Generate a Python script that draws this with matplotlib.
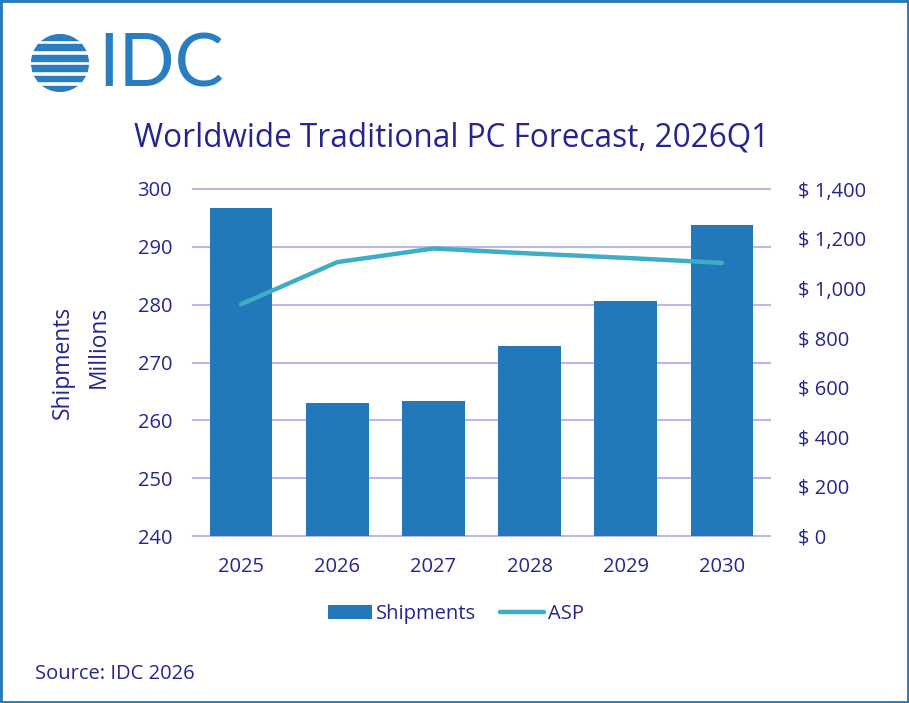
import matplotlib
matplotlib.use("Agg")
import matplotlib.pyplot as plt
from matplotlib.patches import Rectangle, Circle
import numpy as np

years = ["2025", "2026", "2027", "2028", "2029", "2030"]
shipments = [296.8, 263.0, 263.3, 272.9, 280.7, 293.7]
asp = [935, 1105, 1160, 1140, 1122, 1102]
left_ticks = [240, 250, 260, 270, 280, 290, 300]
right_ticks = [0, 200, 400, 600, 800, 1000, 1200, 1400]

plt.rcParams['font.family'] = ['Open Sans', 'DejaVu Sans']
TXT = '#25258d'
BAR = '#2378b9'
LINE = '#3eadc6'
GRID = '#bcb8e6'
LOGO = '#2a7dc1'

W, H = 909, 703
fig = plt.figure(figsize=(W/100, H/100), dpi=100)

ax = fig.add_axes([193/W, 1-536/H, (770-193)/W, (536-189)/H])
x = np.arange(len(years))
ax.bar(x, [s - 240 for s in shipments], bottom=240, width=0.65, color=BAR, zorder=3, label='Shipments')
ax.set_ylim(240, 300)
ax.set_xlim(-0.5, len(years)-0.5)
ax.set_yticks(left_ticks)
ax.set_yticklabels([str(t) for t in left_ticks])
ax.set_xticks(x)
ax.set_xticklabels(years)
ax.grid(axis='y', color=GRID, linewidth=1.5, zorder=0)
for gl in ax.get_ygridlines():
    gl.set_clip_on(False)
ax.set_axisbelow(True)
for s in ax.spines.values():
    s.set_visible(False)
ax.tick_params(axis='both', length=0, labelsize=14.5, colors=TXT)
ax.tick_params(axis='y', pad=15)
ax.tick_params(axis='x', pad=15)

ax2 = ax.twinx()
ax2.plot(x, asp, color=LINE, linewidth=3.2, zorder=4, label='ASP', solid_capstyle='round')
ax2.set_ylim(0, 1400)
ax2.set_yticks(right_ticks)
ax2.set_yticklabels([f"$ {t:,}" for t in right_ticks])
for s in ax2.spines.values():
    s.set_visible(False)
ax2.tick_params(axis='y', length=0, labelsize=14.5, colors=TXT, pad=20)

# y-axis title
fig.text(63/W, 1-362/H, "Shipments", rotation=90, ha='center', va='center', fontsize=16.4, color=TXT)
fig.text(99/W, 1-347/H, "Millions", rotation=90, ha='center', va='center', fontsize=16.4, color=TXT)

# title
fig.text(452/W, 1-138/H, "Worldwide Traditional PC Forecast, 2026Q1", ha='center', va='center',
         fontsize=22.7, color=TXT)

# legend
h1, l1 = ax.get_legend_handles_labels()
h2, l2 = ax2.get_legend_handles_labels()
leg = fig.legend(h1 + h2, l1 + l2, loc='center', bbox_to_anchor=(456/W, 1-614/H), ncol=2,
                 frameon=False, fontsize=14.5, handlelength=2.2, handleheight=0.65,
                 handletextpad=0.2, columnspacing=1.2)
for t in leg.get_texts():
    t.set_color(TXT)

# source
fig.text(35/W, 1-674/H, "Source: IDC 2026", ha='left', va='center', fontsize=14.5, color=TXT)

# logo
lax = fig.add_axes([0, 0, 1, 1], zorder=-1)
lax.set_xlim(0, W)
lax.set_ylim(H, 0)
lax.axis('off')
cx, cy, r = 60, 63, 29
clip = Circle((cx, cy), r, transform=lax.transData)
stripe_h = 5.8
gap = 4.6
offsets = [2, -2, 3, -1, 2, -3]
for i, off in enumerate(offsets):
    y0 = cy - r + i * (stripe_h + gap)
    rect = Rectangle((cx - r - 4 + off, y0), 2 * r + 4, stripe_h, color=LOGO)
    lax.add_patch(rect)
    rect.set_clip_path(clip)
lax.text(98, 66, "IDC", fontsize=53, color=LOGO, ha='left', va='center', family=['Lato', 'DejaVu Sans'])

# frame
fig.patches.append(Rectangle((0, 0), 1, 1, transform=fig.transFigure, fill=False,
                             edgecolor='#2a7ab8', linewidth=3.5, zorder=10))

fig.savefig("out.png", dpi=100)
